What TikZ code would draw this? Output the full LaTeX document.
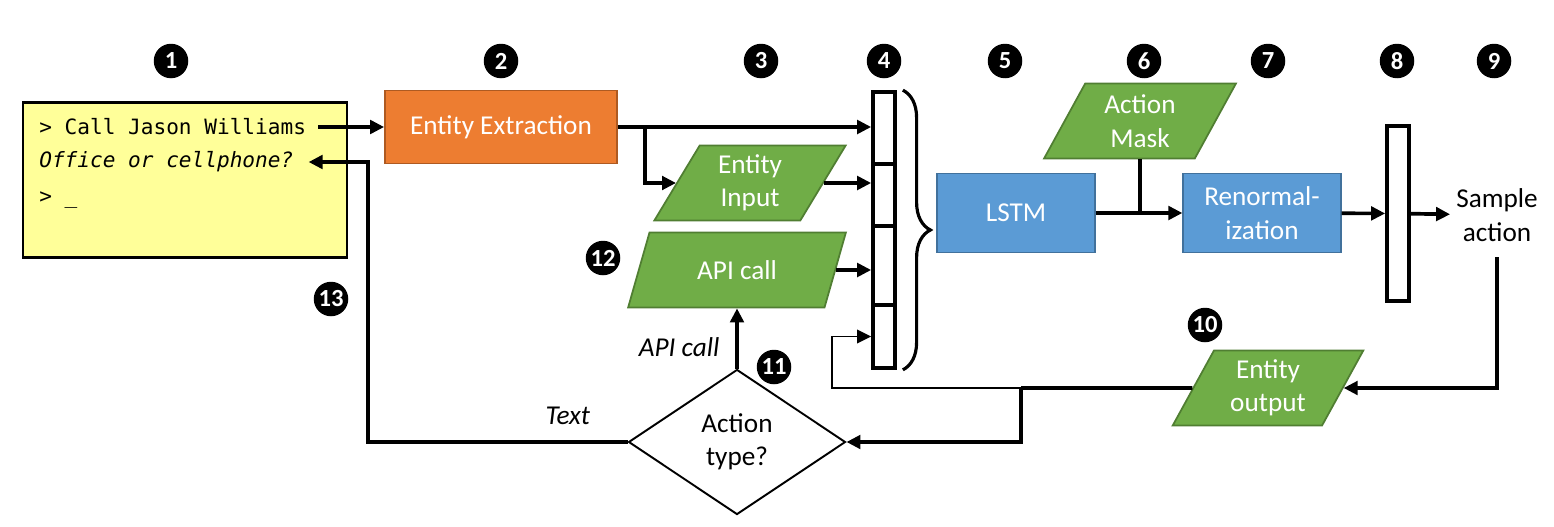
\documentclass[tikz,border=0pt]{standalone}
\usepackage{fontspec}
\setmainfont{Carlito}
\setmonofont{DejaVu Sans Mono}
\usepackage{tikz}
\usetikzlibrary{arrows.meta,positioning,calc,shapes.geometric,decorations.pathreplacing}
\definecolor{orange}{HTML}{ED7D31}
\definecolor{orangeline}{HTML}{AE5A21}
\definecolor{green}{HTML}{70AD47}
\definecolor{greenline}{HTML}{507E32}
\definecolor{blue}{HTML}{5B9BD5}
\definecolor{blueline}{HTML}{41719C}
\definecolor{term}{HTML}{FFFF99}

\begin{document}
\begin{tikzpicture}[x=0.2mm,y=-0.2mm,>={Triangle[length=2.8mm,width=2.7mm]},
 font=\fontsize{15.5}{19}\selectfont,
 num/.style={circle,fill=black,text=white,inner sep=0pt,minimum size=6.9mm,
  font=\bfseries\fontsize{14}{14}\selectfont},
 proc/.style={draw=blueline,fill=blue,text=white,line width=1pt,
  minimum width=3.15cm,minimum height=1.58cm,align=center},
 data/.style={trapezium,trapezium left angle=63,trapezium right angle=117,
  trapezium stretches,draw=greenline,fill=green,text=white,line width=1pt,
  minimum width=3.84cm,minimum height=1.5cm,inner sep=0pt,align=center},
 cell/.style={draw,line width=2.1pt,minimum width=4.4mm,inner sep=0pt},
 mono/.style={anchor=west,inner sep=0pt,font=\ttfamily\fontsize{12}{14}\selectfont},
 link/.style={line width=2.1pt,->},
 thin/.style={line width=1.1pt}]
\useasboundingbox (0,0) rectangle (1554,526);

\foreach \n/\x/\y in {1/171/61,2/501/61,3/761/61,4/884/61,5/1005/61,6/1144/61,7/1268/61,
  8/1397/61,9/1494/61,10/1205/325,11/774/367,12/603/258,13/331/299}
 \node[num] (n\n) at (\x,\y) {\n};

\node[draw,fill=term,line width=1.5pt,minimum width=6.48cm,minimum height=3.1cm] (term) at (185,180) {};
\node[mono] (l1) at (39,127) {> Call Jason Williams};
\node[mono] (l2) at (39,162) {\itshape Office or cellphone?};
\node[mono] (l3) at (39,200) {> \_};

\node[draw=orangeline,fill=orange,text=white,line width=1pt,minimum width=4.64cm,minimum height=1.46cm] (ee) at (501,127) {Entity Extraction};
\node[data] (ein) at (750,183) {Entity\\Input};
\node[data,minimum width=4.36cm] (api) at (737,270) {API call};
\node[data] (mask) at (1140,121) {Action\\Mask};
\node[data] (eo) at (1268,388) {Entity\\output};

\node[cell,minimum height=1.44cm] (v1) at (884,128) {};
\node[cell,minimum height=1.24cm] (v2) at (884,195) {};
\node[cell,minimum height=1.58cm] (v3) at (884,265.5) {};
\node[cell,minimum height=1.26cm] (v4) at (884,336.5) {};
\draw[decorate,decoration={brace,amplitude=5.5mm},line width=1.8pt]
 ([xshift=1.2mm]v1.north east) -- ([xshift=1.2mm]v4.south east);

\node[proc] (lstm) at (1016,213) {LSTM};
\node[proc] (renorm) at (1262,213) {Renormal-\\ization};
\node[cell,minimum height=3.5cm] (v8) at (1398,213.5) {};
\node[align=center] (sample) at (1497,215) {Sample\\action};

\node[diamond,draw,line width=1.1pt,minimum width=4.34cm,minimum height=2.9cm,
 inner sep=0pt,align=center] (dia) at (737,442) {Action\\type?};

\coordinate (br) at (645,127);
\coordinate (split) at (1021,388);
\coordinate (loop) at (832,388);
\coordinate (back) at (368,442);

\draw[link,shorten <=2.4mm] (l1.east) -- (ee.west);
\draw[link] (ee.east) -- (ee.east -| v1.west);
\draw[link] (br) |- (ein.west);
\draw[link] (ein.east) -- (ein.east -| v2.west);
\draw[link] (api.east) -- (api.east -| v3.west);
\draw[link] (lstm) -- (renorm);
\draw[link,-] (mask.center |- mask.south) -- (mask.center |- lstm.east);
\draw[link] (renorm) -- (v8);
\draw[link] (v8) -- (sample);
\draw[link] ([yshift=-2mm]sample.south) |- (eo.east);
\draw[link,-] (eo.west) -- (split);
\draw[link] (split) |- (dia.east);
\draw[thin,->] (split) -- (loop) |- (v4.west);
\draw[link] (dia.north) -- (dia.north |- api.south)
 node[pos=.35,left=2mm] (lapi) {\itshape API call};
\draw[link,shorten >=3mm] (dia.west) -- node[pos=.23,above=2mm] (ltext) {\itshape Text}
 (back) |- (l2.east);
\end{tikzpicture}
\end{document}
